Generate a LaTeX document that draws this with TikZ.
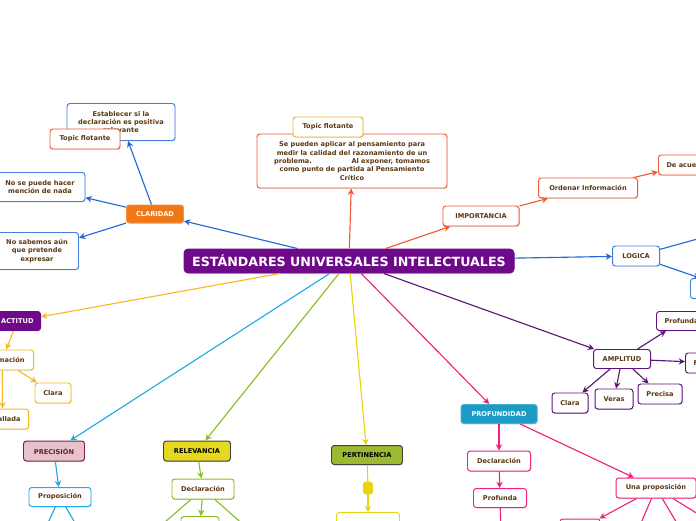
\documentclass[tikz,border=0pt]{standalone}
\usepackage{fontspec}
\setmainfont{DejaVu Sans}
\usetikzlibrary{arrows.meta,shadows}

\definecolor{txtbrown}{HTML}{5A3812}
\definecolor{mainpurple}{HTML}{6E0A8A}
\definecolor{cblue}{HTML}{2266D8}
\definecolor{corange}{HTML}{F07818}
\definecolor{cred}{HTML}{F05A30}
\definecolor{camber}{HTML}{F8B820}
\definecolor{ctopic}{HTML}{F0B030}
\definecolor{cpurple}{HTML}{5E1478}
\definecolor{cpink}{HTML}{F0207A}
\definecolor{cteal}{HTML}{1A9CC4}
\definecolor{cyellow}{HTML}{E8D410}
\definecolor{colive}{HTML}{9CBA30}
\definecolor{cgreen}{HTML}{88C020}
\definecolor{crel}{HTML}{E4D820}
\definecolor{ccyan}{HTML}{20A8E8}
\definecolor{cprec}{HTML}{E6C3CB}
\definecolor{cmaroon}{HTML}{7A2838}

\tikzset{
  topic/.style={draw, rounded corners=2pt, fill=white, line width=0.7pt, text=txtbrown,
    font=\bfseries\fontsize{4.7}{6}\selectfont, align=center, inner sep=1pt,
    drop shadow={shadow xshift=0.5pt, shadow yshift=-0.6pt, opacity=0.25}},
  sz/.style n args={2}{minimum width=#1*0.025cm, minimum height=#2*0.025cm},
  arr/.style={line width=0.8pt, -{Stealth[length=4.5pt,width=4.5pt]}},
  ln/.style={line width=0.8pt}
}

\begin{document}
\begin{tikzpicture}[x=0.025cm, y=-0.025cm]
\useasboundingbox (0,0) rectangle (696,520);
\clip (0,0) rectangle (696,520);

% central node
\node[topic, sz={330}{24}, fill=mainpurple, draw=mainpurple, text=white, rounded corners=3pt,
  font=\bfseries\fontsize{9}{11}\selectfont] (main) at (349,261) {ESTÁNDARES UNIVERSALES INTELECTUALES};

% claridad
\node[topic, sz={57}{18}, fill=corange, draw=corange!80, text=white] (clar) at (155,214) {CLARIDAD};
\node[topic, sz={108}{37}, draw=cblue!85] (estab) at (121,122) {Establecer si la\\ declaración es positiva\\ relevante};
\node[topic, sz={70}{20}, draw=cred] (topic1) at (85,139) {Topic flotante};
\node[topic, sz={90}{29}, draw=cblue!85] (nose) at (40,187) {No se puede hacer\\ mención de nada};
\node[topic, sz={83}{37}, draw=cblue!85] (nosab) at (37,251) {No sabemos aún\\ que pretende\\ expresar};

% texto central
\node[topic, sz={190}{54}, draw=cred] (desc) at (352,161) {Se pueden aplicar al pensamiento para\\ medir la calidad del razonamiento de un\\ problema.\hspace{26pt} Al exponer, tomamos\\ como punto de partida al Pensamiento\\ Crítico};
\node[topic, sz={70}{20}, draw=ctopic] (topic2) at (328,127) {Topic flotante};

% importancia
\node[topic, sz={76}{20}, draw=cred] (impo) at (481,216) {IMPORTANCIA};
\node[topic, sz={99}{20}, draw=cred] (orden) at (588,188) {Ordenar Información};
\node[topic, sz={10}{20}, inner xsep=0.2cm, anchor=west, draw=cred] (deacu) at (658,165) {De acuerdo};

% logica
\node[topic, sz={47}{20}, draw=cblue!85] (logica) at (636,256) {LOGICA};
\node[topic, sz={80}{20}, anchor=north west, draw=cblue!85] (logbox) at (690,278) {};
\coordinate (logup) at (730,230);

% amplitud
\node[topic, sz={57}{19}, draw=cpurple] (ampl) at (622,359) {AMPLITUD};
\node[topic, sz={10}{19}, inner xsep=0.2cm, anchor=west, draw=cpurple] (profA) at (656,321) {Profunda};
\node[topic, sz={10}{20}, inner xsep=0.2cm, anchor=west, draw=cpurple] (fA) at (685,363) {Fundamental};
\node[topic, sz={36}{20}, draw=cpurple] (claraA) at (570,403) {Clara};
\node[topic, sz={38}{20}, draw=cpurple] (veras) at (614,399) {Veras};
\node[topic, sz={44}{20}, draw=cpurple] (precisa) at (660,394) {Precisa};

% profundidad
\node[topic, sz={76}{19}, fill=cteal, draw=cteal!80, text=white] (prof) at (499,414) {PROFUNDIDAD};
\node[topic, sz={63}{20}, draw=cpink] (decP) at (499,461) {Declaración};
\node[topic, sz={53}{19}, draw=cpink] (profP) at (500,498) {Profunda};
\node[topic, sz={80}{20}, draw=cpink] (unaP) at (656,488) {Una proposición};
\node[topic, sz={40}{20}, draw=cpink] (unaA) at (580,529) {};
\coordinate (profPd) at (501,535);
\coordinate (unaB) at (638,530);
\coordinate (unaC) at (681,530);
\coordinate (unaD) at (740,540);

% pertinencia
\node[topic, sz={71}{19}, fill=colive, draw=black!75, text=black] (pert) at (367,455) {PERTINENCIA};
\node[draw=cyellow, fill=cyellow, rounded corners=1.5pt, sz={9}{12}, inner sep=0pt] (sq) at (368,488) {};
\node[topic, sz={63}{20}, anchor=north, draw=cyellow] (pertbox) at (368,512) {};

% relevancia
\node[topic, sz={67}{20}, fill=crel, draw=black!75, text=black] (rel) at (197,451) {RELEVANCIA};
\node[topic, sz={62}{20}, draw=cgreen] (decR) at (203,489) {Declaración};
\node[topic, sz={38}{20}, anchor=north, draw=cgreen] (decRb) at (200,516) {};
\coordinate (decRa) at (150,535);
\coordinate (decRc) at (255,535);

% precision
\node[topic, sz={61}{20}, fill=cprec, draw=cmaroon, text=cmaroon!80!black] (prec) at (54,451) {PRECISIÓN};
\node[topic, sz={62}{19}, draw=ccyan] (propo) at (60,497) {Proposición};
\coordinate (propoa) at (40,540);
\coordinate (propob) at (85,540);

% actitud
\node[topic, sz={10}{19}, inner xsep=0.175cm, anchor=east, fill=mainpurple, draw=mainpurple, text=white] (act) at (41,321) {ACTITUD};
\node[topic, sz={10}{20}, inner xsep=0.225cm, anchor=east, draw=camber] (info) at (34,360) {Información};
\node[topic, sz={36}{20}, draw=camber] (claraI) at (53,393) {Clara};
\node[topic, sz={10}{20}, inner xsep=0.2cm, anchor=east, draw=camber] (detal) at (29,419) {Detallada};

% connectors
\draw[arr, cblue] (main) -- (clar);
\draw[arr, cblue] (clar) -- (estab);
\draw[arr, cblue] (clar) -- (nose);
\draw[arr, cblue] (clar) -- (nosab);
\draw[arr, cred] (main) -- (desc);
\draw[arr, cred] (main) -- (impo);
\draw[arr, cred] (impo) -- (orden);
\draw[arr, cred] (orden) -- (deacu);
\draw[arr, cblue] (main) -- (logica);
\draw[ln, cblue] (logica) -- (logup);
\draw[arr, cblue] (logica) -- (logbox);
\draw[arr, cpurple] (main) -- (ampl);
\draw[arr, cpurple] (ampl) -- (profA);
\draw[arr, cpurple] (ampl) -- (fA);
\draw[arr, cpurple] (ampl) -- (claraA);
\draw[arr, cpurple] (ampl) -- (veras);
\draw[arr, cpurple] (ampl) -- (precisa);
\draw[arr, cpink] (main) -- (prof);
\draw[arr, cpink] (prof) -- (decP);
\draw[arr, cpink] (decP) -- (profP);
\draw[ln, cpink] (profP) -- (profPd);
\draw[arr, cpink] (prof) -- (unaP);
\draw[arr, cpink] (unaP) -- (unaA);
\draw[ln, cpink] (unaP) -- (unaB);
\draw[ln, cpink] (unaP) -- (unaC);
\draw[ln, cpink] (unaP) -- (unaD);
\draw[arr, cyellow] (main) -- (pert);
\draw[ln, cyellow] (pert) -- (sq);
\draw[arr, cyellow] (sq) -- (pertbox);
\draw[arr, cgreen] (main) -- (rel);
\draw[arr, cgreen] (rel) -- (decR);
\draw[ln, cgreen] (decR) -- (decRa);
\draw[arr, cgreen] (decR) -- (decRb);
\draw[ln, cgreen] (decR) -- (decRc);
\draw[arr, ccyan] (main) -- (prec);
\draw[arr, ccyan] (prec) -- (propo);
\draw[ln, ccyan] (propo) -- (propoa);
\draw[ln, ccyan] (propo) -- (propob);
\draw[arr, camber] (main) -- (act);
\draw[arr, camber] (act) -- (info);
\draw[arr, camber] (info) -- (claraI);
\draw[arr, camber] (info) -- (detal);
\end{tikzpicture}
\end{document}
